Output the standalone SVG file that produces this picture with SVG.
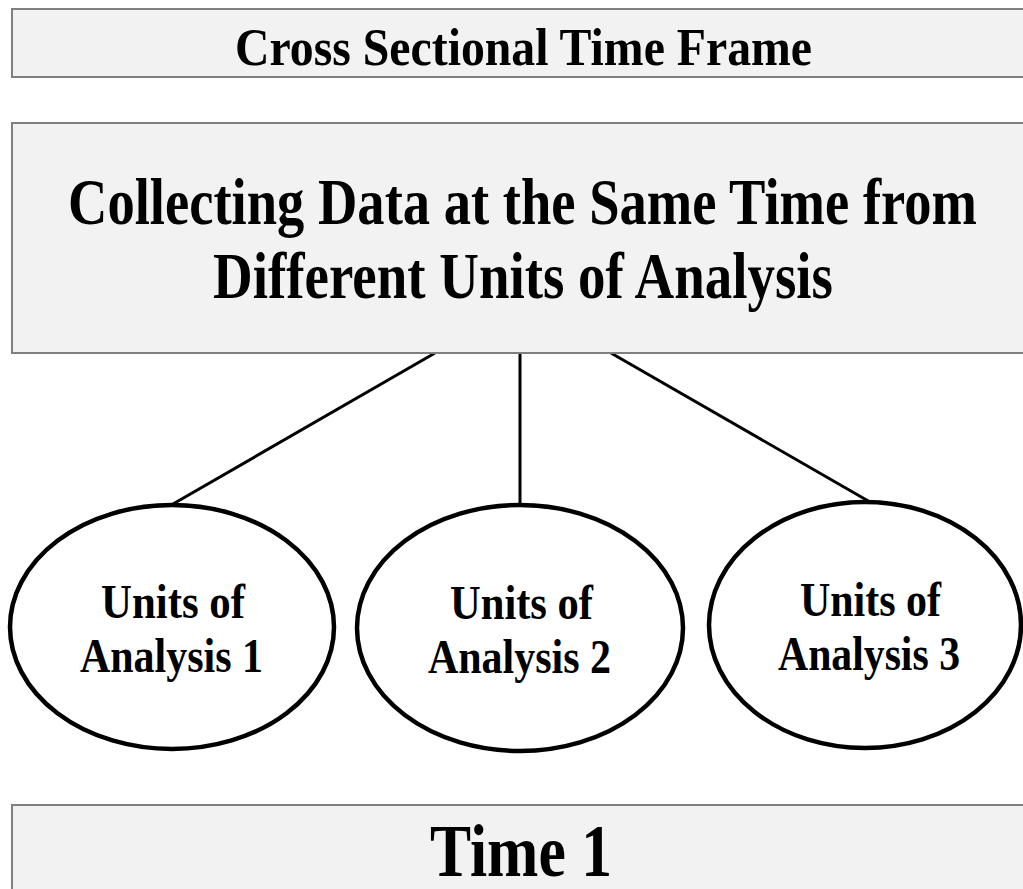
<svg xmlns="http://www.w3.org/2000/svg" width="1023" height="889" viewBox="0 0 1023 889">
<style>
.box{fill:#f2f2f2;stroke:#808080;stroke-width:2}
.ell{fill:#ffffff;stroke:#000000;stroke-width:4.5}
.conn{stroke:#000000;stroke-width:3;fill:none}
text{font-family:"Liberation Serif","Times New Roman",serif;font-weight:bold;fill:#000000;text-anchor:start}
</style>
<rect width="1023" height="889" fill="#ffffff"/>
<g id="header">
<rect class="box" x="12" y="9" width="1030" height="68"/>
<text x="235" y="65" font-size="53" textLength="577" lengthAdjust="spacingAndGlyphs">Cross Sectional Time Frame</text>
</g>
<g id="connectors">
<line class="conn" x1="435" y1="353" x2="173" y2="504"/>
<line class="conn" x1="520" y1="353" x2="520" y2="505"/>
<line class="conn" x1="604" y1="349" x2="870" y2="502"/>
</g>
<g id="main">
<rect class="box" x="12" y="123" width="1030" height="230"/>
<text x="68" y="224" font-size="65" textLength="909" lengthAdjust="spacingAndGlyphs">Collecting Data at the Same Time from</text>
<text x="213" y="298" font-size="65" textLength="620" lengthAdjust="spacingAndGlyphs">Different Units of Analysis</text>
</g>
<g id="unit1">
<ellipse class="ell" cx="172" cy="627" rx="162" ry="122"/>
<text x="101" y="618" font-size="49" textLength="144" lengthAdjust="spacingAndGlyphs">Units of</text>
<text x="80" y="672" font-size="49" textLength="183" lengthAdjust="spacingAndGlyphs">Analysis 1</text>
</g>
<g id="unit2">
<ellipse class="ell" cx="520" cy="628" rx="163" ry="123"/>
<text x="450" y="619" font-size="49" textLength="143" lengthAdjust="spacingAndGlyphs">Units of</text>
<text x="428" y="673" font-size="49" textLength="183" lengthAdjust="spacingAndGlyphs">Analysis 2</text>
</g>
<g id="unit3">
<ellipse class="ell" cx="865" cy="625" rx="156" ry="123"/>
<text x="800" y="616" font-size="49" textLength="141" lengthAdjust="spacingAndGlyphs">Units of</text>
<text x="778" y="670" font-size="49" textLength="182" lengthAdjust="spacingAndGlyphs">Analysis 3</text>
</g>
<g id="time">
<rect class="box" x="12" y="805" width="1030" height="100"/>
<text x="430" y="876" font-size="73" textLength="182" lengthAdjust="spacingAndGlyphs">Time 1</text>
</g>
</svg>
